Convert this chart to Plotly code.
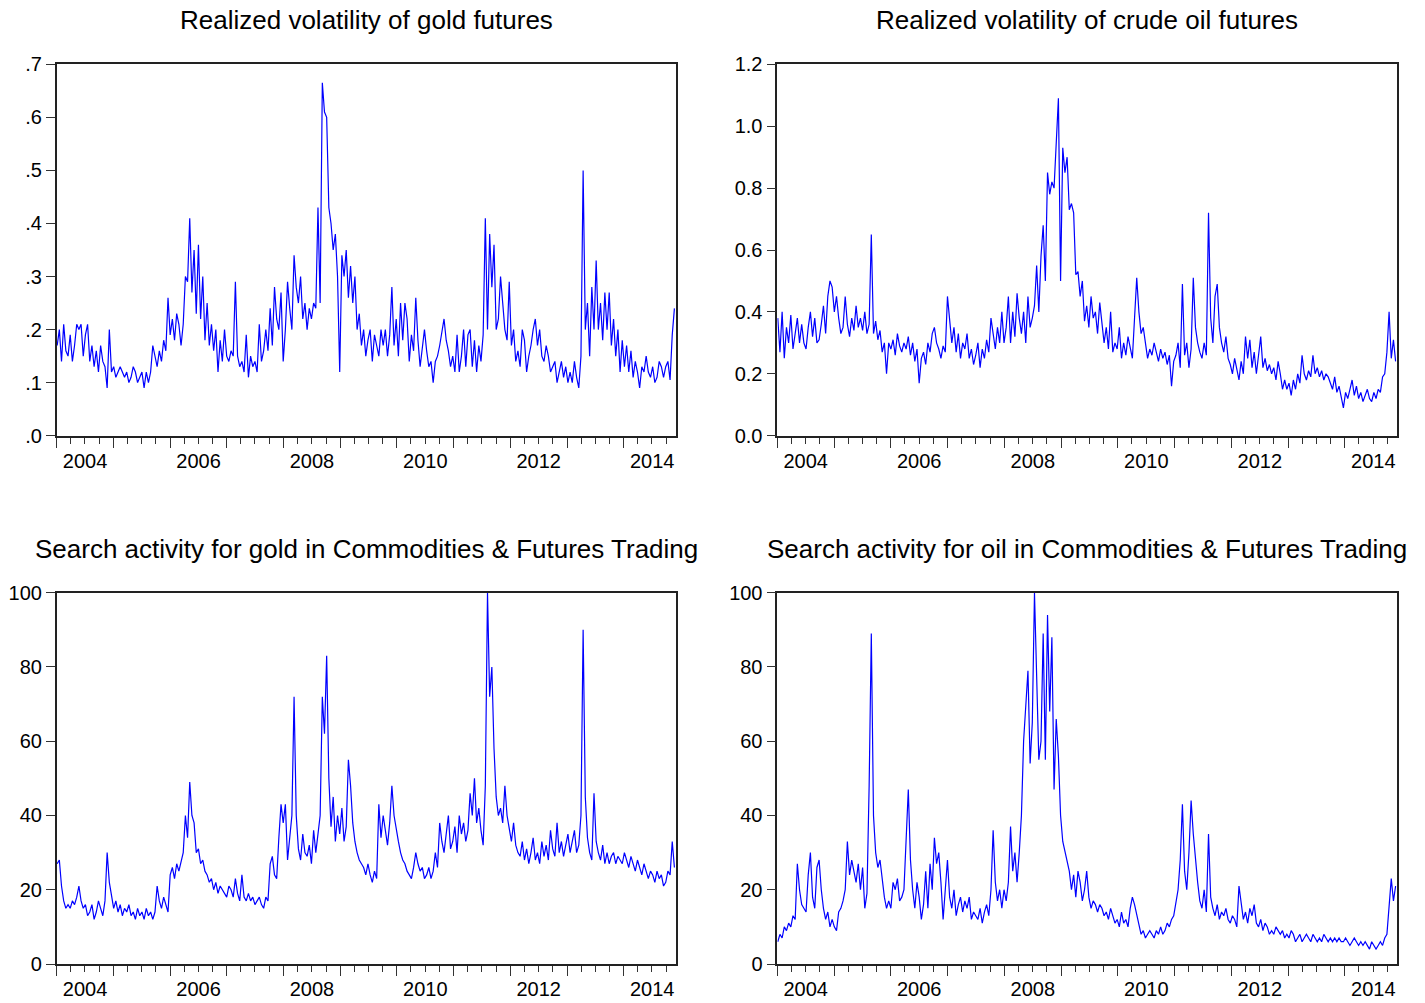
import pandas as pd
import plotly.graph_objects as go

# Biweekly observations, January 2004 - November 2014
SAMPLE_START = "2004-01-04"
SAMPLE_END = "2014-11-23"

# Realized volatility of gold futures (annualised)
gold_rv = [
    # 2004
    0.17, 0.20, 0.14, 0.21, 0.16, 0.15, 0.19, 0.14, 0.17, 0.21, 0.20, 0.21, 0.15,
    0.19, 0.21, 0.14, 0.17, 0.13, 0.16, 0.12, 0.17, 0.14, 0.13, 0.09, 0.20, 0.12,
    # 2005
    0.13, 0.11, 0.12, 0.13, 0.12, 0.11, 0.12, 0.10, 0.11, 0.13, 0.12, 0.10, 0.11,
    0.12, 0.09, 0.12, 0.10, 0.12, 0.17, 0.15, 0.13, 0.16, 0.14, 0.18, 0.16, 0.26,
    # 2006
    0.19, 0.22, 0.18, 0.23, 0.21, 0.17, 0.21, 0.30, 0.29, 0.41, 0.27, 0.35, 0.23,
    0.36, 0.22, 0.30, 0.18, 0.25, 0.17, 0.21, 0.16, 0.20, 0.12, 0.18, 0.14, 0.20,
    # 2007
    0.15, 0.14, 0.16, 0.15, 0.29, 0.15, 0.13, 0.14, 0.12, 0.19, 0.11, 0.15, 0.13,
    0.14, 0.12, 0.21, 0.14, 0.16, 0.20, 0.16, 0.24, 0.17, 0.28, 0.22, 0.20, 0.27,
    # 2008
    0.14, 0.20, 0.29, 0.24, 0.20, 0.34, 0.28, 0.25, 0.30, 0.22, 0.25, 0.20, 0.24,
    0.22, 0.25, 0.24, 0.43, 0.25, 0.665, 0.61, 0.60, 0.43, 0.40, 0.35, 0.38, 0.30,
    # 2009
    0.12, 0.34, 0.30, 0.35, 0.26, 0.32, 0.25, 0.30, 0.20, 0.23, 0.17, 0.20, 0.15,
    0.18, 0.20, 0.14, 0.19, 0.17, 0.15, 0.20, 0.17, 0.20, 0.15, 0.19, 0.28, 0.17,
    # 2010
    0.22, 0.15, 0.25, 0.18, 0.25, 0.22, 0.14, 0.19, 0.16, 0.26, 0.18, 0.13, 0.16,
    0.20, 0.16, 0.13, 0.14, 0.10, 0.14, 0.15, 0.17, 0.20, 0.22, 0.18, 0.16, 0.13,
    # 2011
    0.15, 0.12, 0.19, 0.12, 0.15, 0.20, 0.13, 0.19, 0.20, 0.13, 0.18, 0.12, 0.17,
    0.14, 0.19, 0.41, 0.20, 0.38, 0.28, 0.36, 0.20, 0.22, 0.30, 0.25, 0.20, 0.18,
    # 2012
    0.29, 0.17, 0.20, 0.14, 0.16, 0.13, 0.20, 0.18, 0.12, 0.15, 0.17, 0.20, 0.22,
    0.17, 0.20, 0.15, 0.14, 0.17, 0.15, 0.12, 0.13, 0.14, 0.10, 0.12, 0.14, 0.11,
    # 2013
    0.13, 0.10, 0.12, 0.10, 0.14, 0.11, 0.09, 0.15, 0.50, 0.20, 0.25, 0.15, 0.28,
    0.20, 0.33, 0.20, 0.25, 0.18, 0.27, 0.20, 0.27, 0.17, 0.22, 0.15, 0.20, 0.12,
    # 2014
    0.18, 0.13, 0.17, 0.12, 0.16, 0.11, 0.14, 0.12, 0.09, 0.13, 0.12, 0.15, 0.12,
    0.11, 0.13, 0.10, 0.11, 0.14, 0.13, 0.11, 0.13, 0.14, 0.105, 0.19, 0.24,
]

# Realized volatility of crude oil futures (annualised)
oil_rv = [
    # 2004
    0.38, 0.27, 0.40, 0.25, 0.35, 0.30, 0.39, 0.28, 0.33, 0.38, 0.30, 0.36, 0.30,
    0.28, 0.35, 0.40, 0.32, 0.38, 0.30, 0.31, 0.36, 0.42, 0.33, 0.45, 0.50, 0.48,
    # 2005
    0.40, 0.45, 0.38, 0.33, 0.35, 0.45, 0.36, 0.32, 0.38, 0.34, 0.42, 0.35, 0.38,
    0.34, 0.40, 0.33, 0.36, 0.65, 0.33, 0.37, 0.31, 0.34, 0.27, 0.30, 0.20, 0.30,
    # 2006
    0.28, 0.31, 0.26, 0.33, 0.29, 0.27, 0.30, 0.28, 0.32, 0.26, 0.30, 0.24, 0.28,
    0.17, 0.25, 0.27, 0.23, 0.30, 0.27, 0.33, 0.35, 0.30, 0.28, 0.25, 0.29, 0.27,
    # 2007
    0.45, 0.38, 0.30, 0.35, 0.27, 0.33, 0.25, 0.30, 0.28, 0.33, 0.25, 0.28, 0.23,
    0.26, 0.30, 0.22, 0.28, 0.25, 0.31, 0.27, 0.38, 0.33, 0.28, 0.35, 0.30, 0.40,
    # 2008
    0.30, 0.35, 0.45, 0.30, 0.40, 0.32, 0.46, 0.38, 0.33, 0.40, 0.30, 0.45, 0.35,
    0.38, 0.42, 0.55, 0.40, 0.58, 0.68, 0.50, 0.85, 0.78, 0.82, 0.80, 0.97, 1.09,
    # 2009
    0.50, 0.93, 0.85, 0.90, 0.73, 0.75, 0.72, 0.52, 0.53, 0.45, 0.50, 0.37, 0.42,
    0.35, 0.45, 0.38, 0.40, 0.33, 0.43, 0.36, 0.30, 0.35, 0.28, 0.40, 0.27, 0.30,
    # 2010
    0.28, 0.35, 0.25, 0.30, 0.26, 0.32, 0.28, 0.25, 0.38, 0.51, 0.40, 0.33, 0.35,
    0.30, 0.25, 0.28, 0.26, 0.30, 0.27, 0.24, 0.28, 0.25, 0.27, 0.23, 0.26, 0.16,
    # 2011
    0.24, 0.26, 0.30, 0.22, 0.49, 0.26, 0.30, 0.22, 0.28, 0.51, 0.35, 0.30, 0.27,
    0.25, 0.30, 0.26, 0.72, 0.38, 0.30, 0.45, 0.49, 0.35, 0.30, 0.27, 0.32, 0.25,
    # 2012
    0.23, 0.20, 0.25, 0.22, 0.18, 0.24, 0.20, 0.32, 0.25, 0.31, 0.22, 0.27, 0.20,
    0.26, 0.32, 0.22, 0.25, 0.21, 0.23, 0.20, 0.22, 0.18, 0.24, 0.20, 0.15, 0.18,
    # 2013
    0.15, 0.17, 0.13, 0.18, 0.15, 0.20, 0.17, 0.26, 0.20, 0.18, 0.21, 0.19, 0.26,
    0.20, 0.22, 0.19, 0.21, 0.18, 0.20, 0.19, 0.17, 0.15, 0.19, 0.14, 0.16, 0.13,
    # 2014
    0.09, 0.14, 0.12, 0.15, 0.18, 0.13, 0.16, 0.12, 0.14, 0.11, 0.13, 0.15, 0.12,
    0.11, 0.14, 0.12, 0.15, 0.14, 0.19, 0.20, 0.27, 0.40, 0.25, 0.31, 0.24,
]

# Google search volume index, "gold" in Commodities & Futures Trading
gold_search = [
    # 2004
    27, 28, 21, 17, 15, 16, 15, 17, 16, 18, 21, 17, 15,
    16, 13, 14, 16, 12, 14, 17, 15, 13, 17, 30, 22, 18,
    # 2005
    15, 17, 14, 16, 13, 15, 14, 16, 13, 14, 12, 15, 13,
    14, 12, 15, 13, 14, 12, 14, 21, 17, 15, 18, 16, 14,
    # 2006
    24, 26, 23, 27, 25, 28, 30, 40, 34, 49, 40, 38, 30,
    31, 27, 28, 25, 24, 22, 23, 20, 22, 19, 21, 20, 19,
    # 2007
    18, 21, 20, 18, 23, 19, 17, 24, 18, 17, 19, 17, 18,
    16, 17, 18, 16, 15, 18, 17, 27, 29, 24, 23, 34, 43,
    # 2008
    38, 43, 28, 35, 40, 72, 40, 31, 28, 35, 30, 29, 32,
    27, 36, 30, 35, 40, 72, 62, 83, 50, 37, 45, 33, 40,
    # 2009
    35, 42, 33, 37, 55, 48, 38, 33, 30, 28, 27, 26, 24,
    27, 24, 22, 25, 23, 43, 34, 40, 36, 32, 38, 48, 40,
    # 2010
    36, 33, 30, 28, 27, 25, 24, 23, 26, 30, 27, 25, 26,
    23, 24, 26, 23, 25, 30, 26, 38, 33, 30, 36, 40, 31,
    # 2011
    33, 37, 30, 40, 35, 38, 33, 36, 46, 40, 50, 38, 42,
    36, 32, 48, 100, 72, 80, 58, 45, 40, 42, 38, 48, 40,
    # 2012
    36, 33, 38, 32, 30, 29, 33, 28, 31, 27, 30, 34, 28,
    30, 27, 33, 29, 32, 28, 36, 31, 29, 38, 30, 33, 29,
    # 2013
    32, 35, 30, 33, 36, 30, 32, 40, 90, 45, 34, 30, 28,
    46, 33, 30, 28, 32, 27, 30, 27, 29, 30, 27, 29, 28,
    # 2014
    27, 30, 28, 26, 29, 27, 25, 28, 26, 24, 27, 25, 23,
    25, 24, 22, 25, 23, 24, 21, 22, 25, 24, 33, 26,
]

# Google search volume index, "oil" in Commodities & Futures Trading
oil_search = [
    # 2004
    6, 8, 7, 10, 9, 11, 10, 13, 12, 27, 20, 16, 15,
    14, 24, 30, 18, 15, 26, 28, 20, 15, 12, 14, 10, 12,
    # 2005
    10, 9, 14, 15, 17, 20, 33, 24, 28, 25, 22, 27, 20,
    26, 15, 19, 48, 89, 40, 30, 26, 28, 22, 18, 15, 17,
    # 2006
    15, 22, 20, 23, 17, 18, 20, 36, 47, 28, 20, 15, 22,
    18, 12, 16, 25, 15, 27, 20, 34, 27, 30, 22, 12, 20,
    # 2007
    28, 18, 15, 20, 13, 16, 18, 14, 17, 15, 18, 12, 14,
    13, 12, 15, 11, 14, 16, 13, 20, 36, 22, 17, 20, 15,
    # 2008
    20, 17, 22, 37, 25, 30, 22, 30, 40, 60, 70, 79, 54,
    65, 100, 75, 55, 60, 89, 55, 94, 68, 88, 47, 66, 56,
    # 2009
    40, 33, 30, 28, 25, 20, 24, 18, 25, 22, 17, 20, 25,
    18, 15, 17, 16, 14, 16, 15, 13, 14, 12, 15, 13, 11,
    # 2010
    12, 10, 14, 11, 12, 10, 15, 18, 16, 13, 10, 8, 9,
    7, 8, 9, 8, 7, 9, 8, 10, 8, 9, 11, 10, 12,
    # 2011
    13, 17, 20, 28, 43, 25, 20, 30, 44, 35, 28, 22, 17,
    15, 20, 14, 35, 18, 15, 13, 16, 12, 14, 13, 15, 12,
    # 2012
    11, 13, 12, 10, 21, 16, 12, 14, 11, 15, 13, 16, 11,
    10, 12, 9, 11, 10, 8, 9, 8, 10, 9, 8, 9, 7,
    # 2013
    8, 7, 9, 8, 6, 7, 8, 6, 7, 8, 7, 6, 8,
    7, 6, 7, 6, 8, 7, 6, 7, 6, 7, 6, 7, 6,
    # 2014
    6, 7, 6, 5, 6, 7, 6, 5, 6, 5, 6, 5, 4,
    6, 5, 4, 5, 6, 5, 7, 8, 15, 23, 17, 21,
]

panel_titles = [
    "Realized volatility of gold futures",
    "Realized volatility of crude oil futures",
    "Search activity for gold in Commodities & Futures Trading",
    "Search activity for oil in Commodities & Futures Trading",
]
panel_series = [gold_rv, oil_rv, gold_search, oil_search]

gold_rv_ticks = [0.0, 0.1, 0.2, 0.3, 0.4, 0.5, 0.6, 0.7]
gold_rv_ticktext = [".0", ".1", ".2", ".3", ".4", ".5", ".6", ".7"]
oil_rv_ticks = [0.0, 0.2, 0.4, 0.6, 0.8, 1.0, 1.2]
search_ticks = [0, 20, 40, 60, 80, 100]

FONT = "Liberation Sans, Arial, Helvetica, sans-serif"
W, H = 1425, 1003

# plot-area rectangles in pixels: (left, right, top, bottom)
boxes = [
    (56.7, 675.5, 64.3, 435.7),
    (777.3, 1396.7, 64.3, 435.7),
    (56.7, 675.5, 592.7, 964.0),
    (777.3, 1396.7, 592.7, 964.0),
]


def sample_dates(values):
    return pd.date_range(SAMPLE_START, SAMPLE_END, periods=len(values))


fig = go.Figure()
layout = dict(
    width=W, height=H, autosize=False,
    margin=dict(l=0, r=0, t=0, b=0, autoexpand=False),
    paper_bgcolor="white", plot_bgcolor="white",
    showlegend=False,
    font=dict(family=FONT, color="black"),
    annotations=[],
)

y_settings = [
    dict(range=[0, 0.7], tickvals=gold_rv_ticks, ticktext=gold_rv_ticktext),
    dict(range=[0, 1.2], tickvals=oil_rv_ticks,
         ticktext=[f"{v:.1f}" for v in oil_rv_ticks]),
    dict(range=[0, 100], tickvals=search_ticks,
         ticktext=[str(v) for v in search_ticks]),
    dict(range=[0, 100], tickvals=search_ticks,
         ticktext=[str(v) for v in search_ticks]),
]

for k, (values, title, box, ys) in enumerate(
        zip(panel_series, panel_titles, boxes, y_settings), start=1):
    suffix = "" if k == 1 else str(k)
    left, right, top, bottom = box
    fig.add_trace(go.Scatter(
        x=sample_dates(values), y=values, mode="lines",
        line=dict(color="#0000FF", width=1.2),
        xaxis="x" + suffix, yaxis="y" + suffix,
        hoverinfo="x+y",
    ))
    layout["xaxis" + suffix] = dict(
        domain=[left / W, right / W],
        anchor="y" + suffix,
        type="date", automargin=False,
        range=["2004-01-01", "2014-11-30"],
        showgrid=False, zeroline=False,
        showline=True, linecolor="#222", linewidth=1.6, mirror=True,
        ticks="outside", ticklen=10, tickwidth=1.2, tickcolor="#333",
        tick0="2004-01-01", dtick="M12",
        tickformat="%Y", ticklabelmode="period", ticklabelstep=2,
        ticklabelstandoff=-4,
        tickfont=dict(family=FONT, size=20, color="black"),
        minor=dict(dtick="M3", tick0="2004-01-01", ticks="outside",
                   ticklen=6, tickwidth=1.2, tickcolor="#333"),
    )
    layout["yaxis" + suffix] = dict(
        domain=[1 - bottom / H, 1 - top / H],
        anchor="x" + suffix,
        automargin=False,
        showgrid=False, zeroline=False,
        showline=True, linecolor="#222", linewidth=1.6, mirror=True,
        ticks="outside", ticklen=9, tickwidth=1.2, tickcolor="#333",
        tickmode="array",
        tickfont=dict(family=FONT, size=20, color="black"),
        **ys,
    )
    layout["annotations"].append(dict(
        text=title, showarrow=False,
        xref="paper", yref="paper",
        x=(left + right) / 2 / W,
        y=1 - (top - 44) / H,
        xanchor="center", yanchor="middle",
        font=dict(family=FONT, size=26, color="black"),
    ))

fig.update_layout(**layout)
fig.write_html("out.html")
